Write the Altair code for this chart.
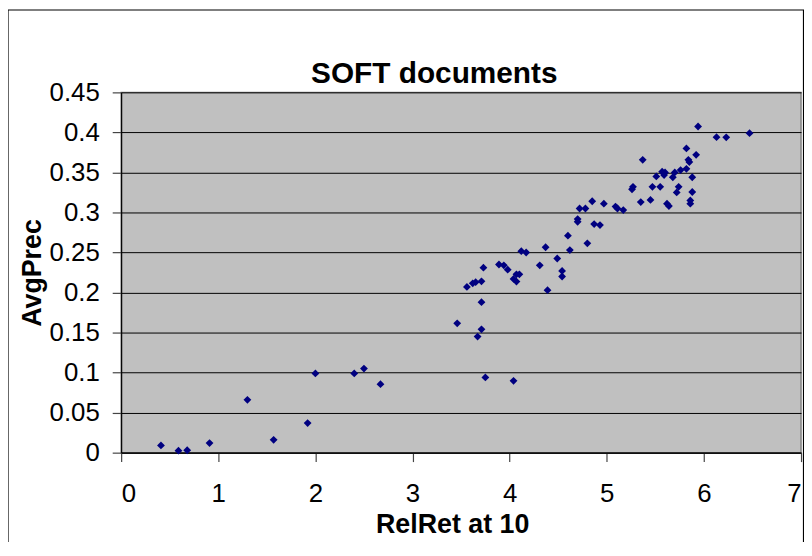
import altair as alt
import pandas as pd

relret = [0.41, 0.59, 0.68, 0.91, 1.30, 1.57, 1.92, 2.00, 2.40, 2.50, 2.67,
          3.46, 3.67, 3.71, 3.75, 3.71, 3.56, 3.62, 3.65, 3.71, 3.73, 3.89,
          3.94, 3.98, 4.04, 4.04, 4.07, 4.10, 4.07, 4.12, 4.17, 4.31, 4.37,
          4.39, 4.49, 4.54, 4.54, 4.60, 4.62, 4.70, 4.70, 4.72, 4.78, 4.80,
          4.85, 4.87, 4.93, 4.97, 5.09, 5.11, 5.17, 5.26, 5.27, 5.35, 5.37,
          5.45, 5.47, 5.51, 5.55, 5.57, 5.60, 5.59, 5.62, 5.64, 5.68, 5.70,
          5.72, 5.74, 5.76, 5.82, 5.82, 5.84, 5.85, 5.88, 5.88, 5.86, 5.86,
          5.92, 5.94, 6.13, 6.23, 6.47]
avgprec = [0.009, 0.0025, 0.003, 0.012, 0.066, 0.016, 0.037, 0.099, 0.099, 0.105, 0.0855,
           0.1615, 0.145, 0.154, 0.094, 0.188, 0.207, 0.2115, 0.213, 0.214, 0.231, 0.235,
           0.234, 0.2285, 0.0897, 0.217, 0.2227, 0.2227, 0.2137, 0.2517, 0.25, 0.234, 0.2566,
           0.203, 0.2425, 0.227, 0.220, 0.271, 0.253, 0.2917, 0.2884, 0.305, 0.305, 0.2615,
           0.314, 0.2855, 0.2843, 0.311, 0.3074, 0.305, 0.303, 0.329, 0.332, 0.313, 0.3657,
           0.3157, 0.332, 0.345, 0.332, 0.351, 0.350, 0.3467, 0.311, 0.308, 0.344, 0.350,
           0.325, 0.332, 0.353, 0.3545, 0.380, 0.3657, 0.363, 0.344, 0.3256, 0.315, 0.311,
           0.372, 0.4074, 0.394, 0.3938, 0.399]

x_ticks = [0, 1, 2, 3, 4, 5, 6, 7]
y_ticks = [0, 0.05, 0.1, 0.15, 0.2, 0.25, 0.3, 0.35, 0.4, 0.45]
chart_title = "SOFT documents"

df = pd.DataFrame({"RelRet at 10": relret, "AvgPrec": avgprec})

FONT = "Liberation Sans"

points = alt.Chart(df).mark_point(
    shape="diamond", filled=True, color="#000080", size=62, opacity=1
).encode(
    x=alt.X("RelRet at 10:Q",
            scale=alt.Scale(domain=[0, 7], nice=False, zero=True),
            axis=alt.Axis(values=x_ticks, format="d", grid=False,
                          title="RelRet at 10", titleFontSize=27,
                          titleFontWeight="bold", titlePadding=5,
                          titleX=333.5,
                          labelFontSize=26, labelPadding=19)),
    y=alt.Y("AvgPrec:Q",
            scale=alt.Scale(domain=[0, 0.45], nice=False),
            axis=alt.Axis(values=y_ticks, format=".2~f", grid=True,
                          gridColor="black", gridWidth=1, gridOpacity=1,
                          title="AvgPrec", titleFontSize=27,
                          titleFontWeight="bold", titlePadding=3,
                          labelFontSize=26, labelPadding=13))
)

title_layer = alt.Chart(pd.DataFrame({"t": [chart_title]})).mark_text(
    font=FONT, fontSize=30, fontWeight="bold", color="black",
    align="center", baseline="alphabetic", clip=False
).encode(
    text="t:N", x=alt.value(315.5), y=alt.value(-9.5)
)

border = alt.Chart(pd.DataFrame({"a": [0]})).mark_rect(
    fill=None, stroke="black", strokeWidth=1.2, clip=False
).encode(
    x=alt.value(-114), x2=alt.value(687.5), y=alt.value(-83), y2=alt.value(480)
)

chart = alt.layer(points, title_layer, border).properties(
    width=685, height=363,
    autosize=alt.AutoSizeParams(type="none"),
    padding={"left": 114, "top": 83, "right": 3, "bottom": 88}
).configure(
    font=FONT
).configure_view(
    fill="#c0c0c0", stroke="#808080", strokeWidth=1.5
).configure_axis(
    labelFont=FONT, titleFont=FONT, labelColor="black", titleColor="black",
    domainColor="black", domainWidth=1.2, tickColor="#444444", tickSize=9,
    tickWidth=1.2
)

chart.save("out.html", embed_options={"renderer": "svg", "actions": False})
